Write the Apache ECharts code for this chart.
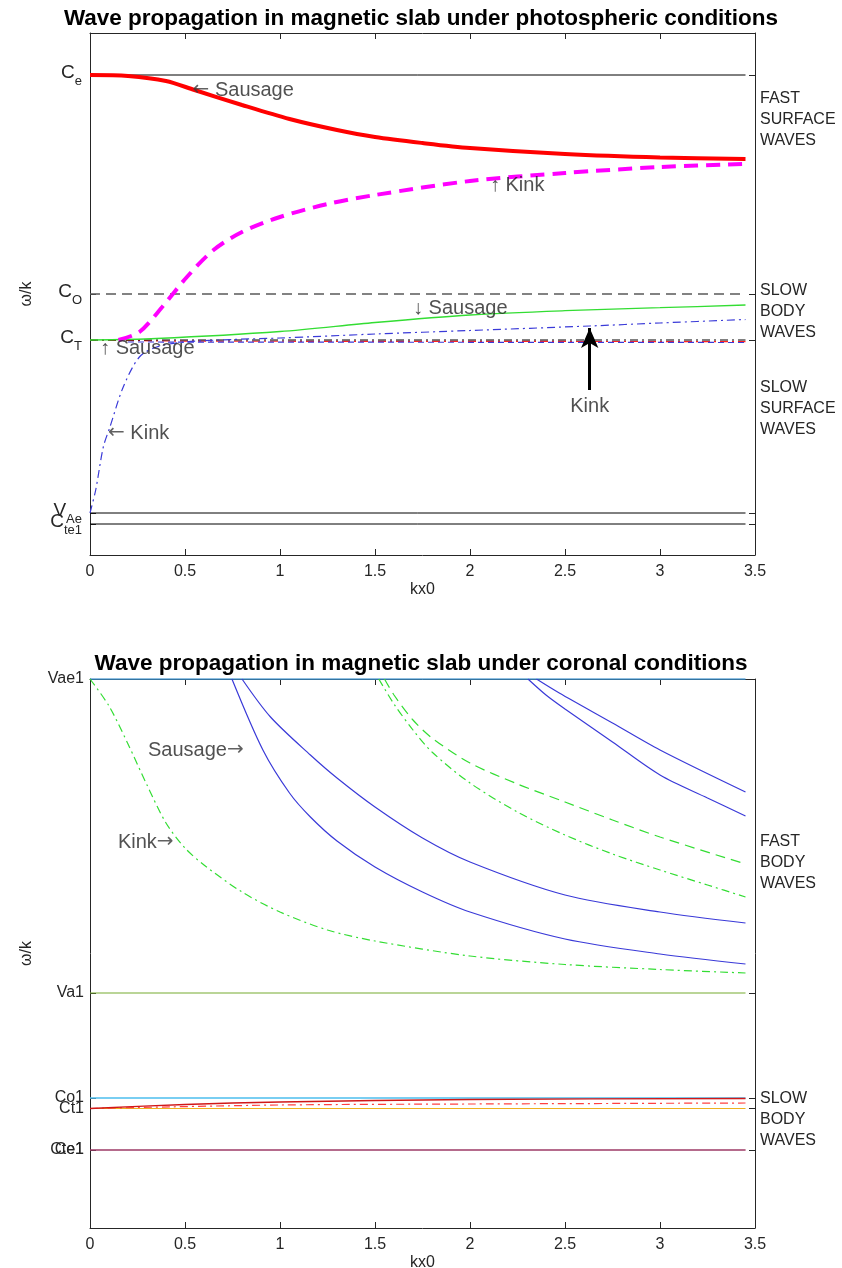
<!DOCTYPE html>
<html><head><meta charset="utf-8">
<script src="https://cdn.jsdelivr.net/npm/echarts@6/dist/echarts.min.js"></script>
<style>html,body{margin:0;padding:0;background:#fff}#c{width:842px;height:1268px}</style>
</head><body><div id="c"></div>
<script>
// ---------- shared ----------
const xTicks = [0, 0.5, 1, 1.5, 2, 2.5, 3, 3.5];
const xEnd = 3.45;

// ---------- top panel: photospheric ----------
const topTickValues = [0.29, 0.40, 2.13, 2.59, 4.78];
const topTickNames  = ['C_te1', 'V_Ae', 'C_T', 'C_O', 'C_e'];
const Ce = 4.78, C0 = 2.59, CT = 2.13, VAe = 0.40, Cte1 = 0.29;

const redSausageX = [0, 0.2, 0.4, 0.55, 0.8, 1.05, 1.3, 1.5, 1.75, 2.0, 2.5, 3.0, 3.45];
const redSausageY = [4.78, 4.77, 4.72, 4.63, 4.48, 4.34, 4.23, 4.16, 4.10, 4.05, 3.99, 3.955, 3.94];

const magKinkX = [0.15, 0.26, 0.38, 0.51, 0.65, 0.8, 1.0, 1.25, 1.5, 2.0, 2.5, 3.0, 3.45];
const magKinkY = [2.13, 2.21, 2.46, 2.76, 3.03, 3.21, 3.36, 3.49, 3.58, 3.72, 3.80, 3.86, 3.89];

const greenSausageX = [0, 0.35, 1.0, 1.5, 2.0, 2.5, 3.0, 3.45];
const greenSausageY = [2.13, 2.145, 2.215, 2.305, 2.38, 2.423, 2.453, 2.48];

const blueKinkX = [0, 0.03, 0.07, 0.105, 0.175, 0.26, 0.35, 0.5, 0.75, 1.0, 1.5, 2.0, 2.63, 3.0, 3.45];
const blueKinkY = [0.40, 0.63, 1.06, 1.26, 1.66, 1.96, 2.06, 2.11, 2.135, 2.15, 2.19, 2.225, 2.27, 2.30, 2.335];

const redSlowSurfX = [0, 0.5, 3.45];
const redSlowSurfY = [2.13, 2.118, 2.114];
const blueSlowSurfX = [0.2, 3.45];
const blueSlowSurfY = [2.11, 2.105];

const topNotes = [
  [0.54, 4.63, '← Sausage'],
  [2.105, 3.68, '↑ Kink'],
  [1.70, 2.45, '↓ Sausage'],
  [0.053, 2.05, '↑ Sausage'],
  [0.095, 1.20, '← Kink']
];
const bigArrow = {x: 2.63, from: 1.63, to: 2.25, label: 'Kink'};

// ---------- bottom panel: coronal ----------
const botTickValues = [0.78, 0.7800001, 1.195, 1.30, 2.35, 5.49];
const botTickNames  = ['Cte1', 'Ce1', 'Ct1', 'Co1', 'Va1', 'Vae1'];
const Vae1 = 5.49, Va1 = 2.35, Co1 = 1.30, Ct1 = 1.195, Ce1 = 0.78;

const kinkFundX = [0, 0.1, 0.2, 0.3, 0.4, 0.5, 0.6, 0.8, 1.0, 1.25, 1.5, 2.0, 2.5, 3.0, 3.45];
const kinkFundY = [5.49, 5.22, 4.84, 4.43, 4.05, 3.80, 3.63, 3.36, 3.16, 2.98, 2.87, 2.72, 2.635, 2.585, 2.55];

const saus1aX = [0.747, 0.91, 1.05, 1.16, 1.3, 1.5, 1.75, 2.0, 2.5, 3.0, 3.45];
const saus1aY = [5.49, 4.78, 4.35, 4.11, 3.87, 3.61, 3.36, 3.16, 2.89, 2.74, 2.64];
const saus1bX = [0.8, 0.95, 1.16, 1.3, 1.5, 1.75, 2.0, 2.5, 3.0, 3.45];
const saus1bY = [5.49, 5.11, 4.73, 4.50, 4.21, 3.90, 3.66, 3.33, 3.16, 3.05];

const kink2ddX = [1.52, 1.6, 1.7, 1.8, 2.0, 2.25, 2.5, 2.75, 3.0, 3.25, 3.45];
const kink2ddY = [5.49, 5.24, 4.98, 4.76, 4.45, 4.16, 3.93, 3.74, 3.58, 3.43, 3.31];
const kink2dX = [1.55, 1.6, 1.7, 1.8, 2.0, 2.25, 2.5, 2.75, 3.0, 3.45];
const kink2dY = [5.49, 5.33, 5.08, 4.90, 4.65, 4.44, 4.26, 4.08, 3.91, 3.64];

const saus3aX = [2.35, 2.47, 2.75, 3.0, 3.45];
const saus3aY = [5.49, 5.35, 5.05, 4.78, 4.36];
const saus3bX = [2.305, 2.4, 2.5, 2.75, 3.0, 3.25, 3.45];
const saus3bY = [5.49, 5.33, 5.19, 4.86, 4.53, 4.30, 4.12];

const slowSausX = [0, 0.5, 1.0, 2.0, 3.45];
const slowSausY = [1.195, 1.235, 1.26, 1.285, 1.295];
const slowKinkX = [0, 1.0, 2.0, 3.45];
const slowKinkY = [1.195, 1.23, 1.24, 1.25];

const botNotes = [
  [0.305, 4.78, 'Sausage→'],
  [0.147, 3.86, 'Kink→']
];

// ---------- build ----------
const FF = "'Liberation Sans', Arial, Helvetica, sans-serif";
const AX = '#262626';
const DASHDOT = [8, 4, 2, 4];
const zip = (xs, ys) => xs.map((x, i) => [x, ys[i]]);

function ln(xs, ys, color, width, type, g, smooth) {
  return {
    type: 'line', xAxisIndex: g * 2, yAxisIndex: g * 3,
    data: zip(xs, ys), symbol: 'none', showSymbol: false,
    smooth: smooth ? 0.3 : false,
    lineStyle: {color: color, width: width, type: type},
    silent: true, z: 3
  };
}
function hl(v, color, width, type, g) {
  return ln([0, xEnd], [v, v], color, width, type, g, false);
}
// horizontal arrows drawn with a font that has long arrows; vertical ones stay thin
const arrowRich = {a: {fontFamily: "'DejaVu Sans', sans-serif", fontSize: 20, color: '#3a3a3a'}};
const withArrows = s => s.replace(/([←→])/g, '{a|$1}');
function notes(arr, g, fs) {
  return {
    type: 'scatter', xAxisIndex: g * 2, yAxisIndex: g * 3, symbolSize: 0,
    data: arr, silent: true, z: 10,
    label: {show: true, position: 'right', distance: 0, color: AX, fontSize: fs, fontFamily: FF,
      formatter: p => withArrows(p.data[2]), rich: arrowRich}
  };
}
function richName(n) {
  const parts = n.split('_');
  return parts.length > 1 ? '{m|' + parts[0] + '}{s|' + parts[1] + '}' : n;
}
function lookup(vals, names, v) {
  let best = 0, bd = Infinity;
  vals.forEach((t, i) => { const d = Math.abs(t - v); if (d < bd) { bd = d; best = i; } });
  return names[best];
}
function xAxes(g) {
  const base = {gridIndex: g, type: 'value', min: 0, max: 3.5, interval: 0.5,
    axisLine: {show: true, onZero: false, lineStyle: {color: AX, width: 1}},
    axisTick: {show: true, inside: true, length: 6, lineStyle: {color: AX}},
    splitLine: {show: false}};
  return [
    Object.assign({}, base, {position: 'bottom',
      axisLabel: {color: AX, fontSize: 16, fontFamily: FF, margin: 9, hideOverlap: false},
      name: 'kx0', nameLocation: 'middle', nameGap: 27,
      nameTextStyle: {color: AX, fontSize: 16, fontFamily: FF}}),
    Object.assign({}, base, {position: 'top', axisLabel: {show: false}})
  ];
}
// left labels split over two stacked left axes so that close labels both show
function yAxes(g, min, max, vals, names, rich) {
  const idxA = [], idxB = [];
  vals.forEach((v, i) => (i % 2 === 0 ? idxA : idxB).push(i));
  const base = {gridIndex: g, type: 'value', min: min, max: max,
    axisLine: {show: true, onZero: false, lineStyle: {color: AX, width: 1}},
    axisTick: {show: true, inside: true, length: 6, customValues: vals, lineStyle: {color: AX}},
    splitLine: {show: false}};
  const mkLab = idx => {
    const sv = idx.map(i => vals[i]);
    return rich ? {
      customValues: sv, color: AX, fontFamily: FF, margin: 8, hideOverlap: false,
      formatter: v => richName(lookup(vals, names, v)),
      rich: {
        m: {fontSize: 19, lineHeight: 24, verticalAlign: 'top', color: AX, fontFamily: FF},
        s: {fontSize: 13, lineHeight: 13, padding: [12, 0, 0, 0], verticalAlign: 'top', color: AX, fontFamily: FF}
      }
    } : {
      customValues: sv, color: AX, fontFamily: FF, fontSize: 16, margin: 6, hideOverlap: false,
      formatter: v => lookup(vals, names, v)
    };
  };
  return [
    Object.assign({}, base, {position: 'left', axisLabel: mkLab(idxA),
      name: 'ω/k', nameLocation: 'middle', nameGap: 55, nameRotate: 90,
      nameTextStyle: {color: AX, fontSize: 16, fontFamily: FF}}),
    Object.assign({}, base, {position: 'left', axisLabel: mkLab(idxB),
      axisLine: {show: false}, axisTick: {show: false}}),
    Object.assign({}, base, {position: 'right', axisLabel: {show: false}})
  ];
}

const series = [
  // top horizontal levels
  hl(Ce, '#000', 1, 'solid', 0),
  hl(C0, '#5a5a5a', 1.6, [10, 6], 0),
  hl(VAe, '#000', 1, 'solid', 0),
  hl(Cte1, '#000', 1, 'solid', 0),
  ln(redSlowSurfX, redSlowSurfY, '#ff2020', 1.2, DASHDOT, 0, false),
  ln(blueSlowSurfX, blueSlowSurfY, '#3a3ad8', 1.2, [6, 4], 0, false),
  hl(CT, '#000', 1, DASHDOT, 0),
  ln(greenSausageX, greenSausageY, '#33dd33', 1.3, 'solid', 0, true),
  ln(blueKinkX, blueKinkY, '#3a3ad8', 1.2, DASHDOT, 0, true),
  ln(magKinkX, magKinkY, '#ff00ff', 4, [14, 8], 0, true),
  ln(redSausageX, redSausageY, '#ff0000', 4, 'solid', 0, true),
  notes(topNotes, 0, 20),
  {
    type: 'scatter', xAxisIndex: 0, yAxisIndex: 0, symbolSize: 0, silent: true, z: 10,
    data: [[bigArrow.x, bigArrow.from, bigArrow.label]],
    label: {show: true, position: 'bottom', distance: 6, color: AX, fontSize: 20, fontFamily: FF,
      formatter: p => p.data[2]},
    markLine: {
      silent: true, symbol: ['none', 'arrow'], symbolSize: [13, 20], animation: false,
      label: {show: false},
      lineStyle: {color: '#000', width: 3, type: 'solid'},
      data: [[{coord: [bigArrow.x, bigArrow.from]}, {coord: [bigArrow.x, bigArrow.to]}]]
    }
  },
  // bottom horizontal levels
  hl(Vae1, '#3a8fcb', 1.5, 'solid', 1),
  hl(Va1, '#77ac30', 1.2, 'solid', 1),
  hl(Co1, '#4dbeee', 1.6, 'solid', 1),
  hl(Ct1, '#edb120', 1.2, 'solid', 1),
  hl(Ce1, '#d95319', 1.2, 'solid', 1),
  hl(Ce1, '#7e2f8e', 1.2, 'solid', 1),
  ln(slowKinkX, slowKinkY, '#ff4040', 1.2, DASHDOT, 1, true),
  ln(slowSausX, slowSausY, '#d01818', 1.4, 'solid', 1, true),
  ln(kinkFundX, kinkFundY, '#33dd33', 1.2, DASHDOT, 1, true),
  ln(saus1aX, saus1aY, '#3a3ad8', 1.2, 'solid', 1, true),
  ln(saus1bX, saus1bY, '#3a3ad8', 1.2, 'solid', 1, true),
  ln(kink2ddX, kink2ddY, '#33dd33', 1.2, DASHDOT, 1, true),
  ln(kink2dX, kink2dY, '#33dd33', 1.2, [10, 6], 1, true),
  ln(saus3aX, saus3aY, '#3a3ad8', 1.2, 'solid', 1, true),
  ln(saus3bX, saus3bY, '#3a3ad8', 1.2, 'solid', 1, true),
  notes(botNotes, 1, 20)
];

const sideText = (x, y, t) => ({type: 'text', left: x, top: y, silent: true,
  style: {text: t, fill: AX, font: "16px 'Liberation Sans', Arial, sans-serif", lineHeight: 21}});

const option = {
  animation: false,
  backgroundColor: '#fff',
  title: [
    {text: 'Wave propagation in magnetic slab under photospheric conditions', left: 'center', top: 2,
      textStyle: {fontSize: 22.5, fontWeight: 'bold', color: '#000', fontFamily: FF}},
    {text: 'Wave propagation in magnetic slab under coronal conditions', left: 'center', top: 647,
      textStyle: {fontSize: 22.5, fontWeight: 'bold', color: '#000', fontFamily: FF}}
  ],
  grid: [
    {left: 90, right: 87, top: 33, height: 522, outerBoundsMode: 'none'},
    {left: 90, right: 87, top: 679, height: 549, outerBoundsMode: 'none'}
  ],
  xAxis: [].concat(xAxes(0), xAxes(1)),
  yAxis: [].concat(yAxes(0, -0.02, 5.2, topTickValues, topTickNames, true),
                   yAxes(1, 0, 5.49, botTickValues, botTickNames, false)),
  graphic: [
    sideText(760, 88, 'FAST\nSURFACE\nWAVES'),
    sideText(760, 280, 'SLOW\nBODY\nWAVES'),
    sideText(760, 377, 'SLOW\nSURFACE\nWAVES'),
    sideText(760, 831, 'FAST\nBODY\nWAVES'),
    sideText(760, 1088, 'SLOW\nBODY\nWAVES')
  ],
  series: series
};
const chart = echarts.init(document.getElementById('c'), null, {renderer: 'canvas'});
chart.setOption(option);
</script></body></html>
